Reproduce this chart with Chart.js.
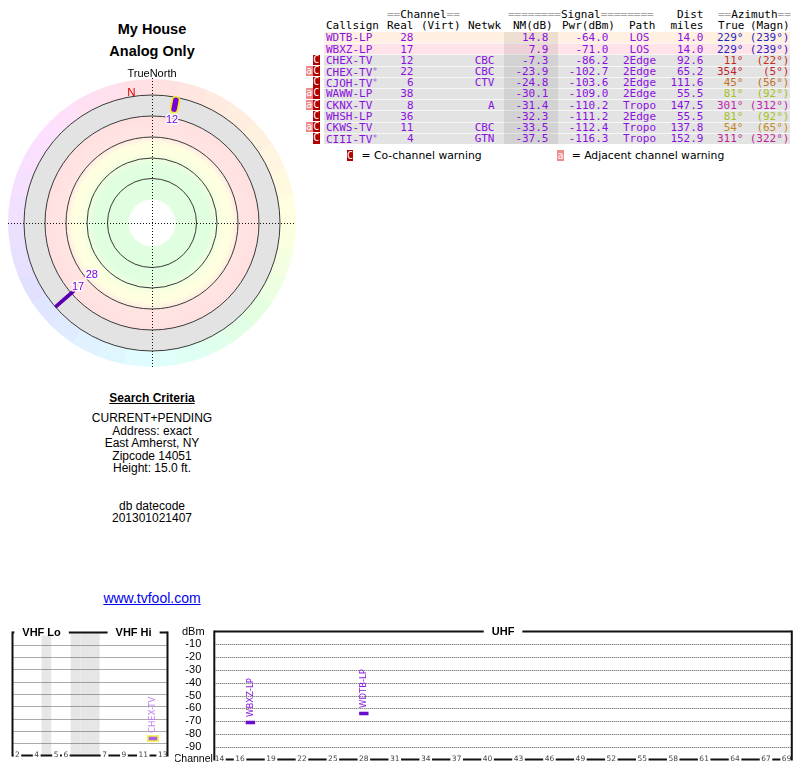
<!DOCTYPE html>
<html>
<head>
<meta charset="utf-8">
<script src="https://cdn.jsdelivr.net/npm/chart.js@4.4.1/dist/chart.umd.min.js"></script>
<style>
body { margin:0; background:#fff; width:800px; height:768px; overflow:hidden; position:relative;
       font-family:"Liberation Sans", Arial, sans-serif; color:#000; }
.t { position:absolute; white-space:nowrap; line-height:13px; }
.m { font-family:"DejaVu Sans Mono", monospace; font-size:11px; }
.g { color:#a8a8a8; }
.c { position:absolute; left:0; width:304px; text-align:center; white-space:nowrap; }
canvas { position:absolute; }
.bg { position:absolute; }
.badge { position:absolute; color:#fff; text-align:center; font-family:"DejaVu Sans Mono", monospace; font-size:10px; }
</style>
</head>
<body>

<div class="c" style="top:20px;font:bold 14.5px/18px 'Liberation Sans',Arial,sans-serif">My House</div>
<div class="c" style="top:42px;font:bold 14.5px/18px 'Liberation Sans',Arial,sans-serif">Analog Only</div>

<div class="c" style="top:391px;font:bold 12px/14px 'Liberation Sans',Arial,sans-serif"><u>Search Criteria</u></div>
<div class="c" style="top:412px;font:12px/12.5px 'Liberation Sans',Arial,sans-serif">CURRENT+PENDING<br>Address: exact<br>East Amherst, NY<br>Zipcode 14051<br>Height: 15.0 ft.<br><br><br>db datecode<br>201301021407</div>
<div class="c" style="top:590px;font:14px/16px 'Liberation Sans',Arial,sans-serif"><u style="color:#0000ee">www.tvfool.com</u></div>

<canvas id="radar" width="300" height="310" style="left:2px;top:68px;width:300px;height:310px"></canvas>
<canvas id="vhf" width="180" height="148" style="left:0px;top:620px;width:180px;height:148px"></canvas>
<canvas id="uhf" width="625" height="148" style="left:175px;top:620px;width:625px;height:148px"></canvas>

<script>
"use strict";

// Station list (table, radar plot and spectrum all come from these)
const callsigns = ["WDTB-LP", "WBXZ-LP", "CHEX-TV", "CHEX-TV*", "CJOH-TV*", "WAWW-LP", "CKNX-TV", "WHSH-LP", "CKWS-TV", "CIII-TV*"];
const realCh    = [28, 17, 12, 22, 6, 38, 8, 36, 11, 4];
const networks  = ["", "", "CBC", "CBC", "CTV", "", "A", "", "CBC", "GTN"];
const nmDb      = [14.8, 7.9, -7.3, -23.9, -24.8, -30.1, -31.4, -32.3, -33.5, -37.5];
const pwrDbm    = [-64.0, -71.0, -86.2, -102.7, -103.6, -109.0, -110.2, -111.2, -112.4, -116.3];
const paths     = ["LOS", "LOS", "2Edge", "2Edge", "2Edge", "2Edge", "Tropo", "2Edge", "Tropo", "Tropo"];
const distMi    = [14.0, 14.0, 92.6, 65.2, 111.6, 55.5, 147.5, 55.5, 137.8, 152.9];
const azTrue    = [229, 229, 11, 354, 45, 81, 301, 81, 54, 311];
const azMagn    = [239, 239, 22, 5, 56, 92, 312, 92, 65, 322];
const coWarn    = [0, 0, 1, 1, 1, 1, 1, 1, 1, 1];
const adjWarn   = [0, 0, 0, 1, 0, 1, 1, 0, 1, 0];

// Spectrum axes
const vhfSlots     = ["2", "3", "4", "", "5", "6", "", "", "", "7", "8", "9", "10", "11", "12", "13"];
const vhfTickLabels = ["2", "4", "5", "6", "7", "9", "11", "13"];
const uhfTickLabels = [14, 16, 19, 22, 25, 28, 31, 34, 37, 40, 43, 46, 49, 52, 55, 58, 61, 64, 67, 69];
const dbmTicks     = [-10, -20, -30, -40, -50, -60, -70, -80, -90];

// Radar ring radii (plot units = px)
const ringRadii = [44.5, 65, 86, 107, 128];
const RING_OUT = 128, HOLE = 23.5, HUE_R = 144, WEDGES = 32;

const PURPLE = "#8a10e0";

// ---------- helpers ----------
function put(html, x, yc, align, cls, color) {
    const el = document.createElement("div");
    el.className = "t " + (cls || "");
    el.innerHTML = html;
    el.style.top = (yc - 6.5) + "px";
    if (align === "right") el.style.right = (800 - x) + "px";
    else if (align === "center") { el.style.left = x + "px"; el.style.transform = "translateX(-50%)"; }
    else el.style.left = x + "px";
    if (color) el.style.color = color;
    document.body.appendChild(el);
    return el;
}
function box(x, y, w, h, color, cls, text) {
    const el = document.createElement("div");
    el.className = cls || "bg";
    el.style.left = x + "px"; el.style.top = y + "px";
    el.style.width = w + "px"; el.style.height = h + "px";
    el.style.background = color;
    if (text) { el.textContent = text; el.style.lineHeight = h + "px"; }
    document.body.appendChild(el);
    return el;
}
function hueFrom(stops, az) {
    az = ((az % 360) + 360) % 360;
    for (let k = 1; k < stops.length; k++) {
        const [a0, h0] = stops[k - 1], [a1, h1] = stops[k];
        if (az <= a1) return h0 + (h1 - h0) * (az - a0) / (a1 - a0);
    }
    return 0;
}
const ringHues = [[0, 0], [45, 28], [90, 62], [135, 120], [180, 180], [225, 225], [270, 268], [315, 300], [360, 360]];
const textHues = [[0, 0], [45, 30], [90, 80], [135, 120], [180, 180], [225, 232], [270, 275], [315, 320], [360, 360]];
function azColor(az) { return "hsl(" + hueFrom(textHues, az).toFixed(0) + ",72%,44%)"; }

// ---------- table ----------
const ROW_TOP = 32, ROW_H = 11.2;
callsigns.forEach((cs, i) => {
    const top = ROW_TOP + i * ROW_H;
    const bg = i === 0 ? "#fff0e2" : i === 1 ? "#ffe3e8" : "#e3e3e3";
    const r = box(324, top, 466, ROW_H, bg);
    if (i > 0) r.style.borderTop = "1px solid #f6f6f6", r.style.height = (ROW_H - 1) + "px";
});
box(504, ROW_TOP, 53.7, ROW_H * callsigns.length, "rgba(0,0,0,0.075)");

put('<span class="g">==</span>Channel<span class="g">==</span>', 387, 14.5, "left", "m");
put('<span class="g">========</span>Signal<span class="g">========</span>', 508, 14.5, "left", "m");
put("Dist", 703.5, 14.5, "right", "m");
put('<span class="g">==</span>Azimuth<span class="g">==</span>', 718, 14.5, "left", "m");
[["Callsign", 326], ["Real", 387], ["(Virt)", 421], ["Netwk", 468], ["NM(dB)", 513], ["Pwr(dBm)", 562], ["Path", 629], ["True", 718], ["(Magn)", 750]]
    .forEach(h => put(h[0], h[1], 25.5, "left", "m"));
put("miles", 703.5, 25.5, "right", "m");

callsigns.forEach((cs, i) => {
    const top = ROW_TOP + i * ROW_H, yc = top + ROW_H / 2 + 0.2;
    const name = cs.replace("*", '<span style="font-size:9px;vertical-align:2px;color:#9a70d0">*</span>');
    put(name, 326, yc, "left", "m", PURPLE);
    put(String(realCh[i]), 413.5, yc, "right", "m", PURPLE);
    put(networks[i], 494.5, yc, "right", "m", PURPLE);
    put(nmDb[i].toFixed(1), 548.5, yc, "right", "m", PURPLE);
    put(pwrDbm[i].toFixed(1), 608.5, yc, "right", "m", PURPLE);
    put(paths[i], 639.5, yc, "center", "m", PURPLE);
    put(distMi[i].toFixed(1), 703.5, yc, "right", "m", PURPLE);
    put(azTrue[i] + "\u00b0", 743.5, yc, "right", "m", azColor(azTrue[i]));
    put("(" + azMagn[i] + "\u00b0)", 789.5, yc, "right", "m", azColor(azTrue[i]));
    if (coWarn[i]) box(312.7, top + 0.3, 7.3, ROW_H - 0.6, "#b00000", "badge", "C");
    if (adjWarn[i]) box(305.6, top + 0.3, 7.1, ROW_H - 0.6, "#f08a8a", "badge", "a");
});

box(346.7, 149.5, 6.8, 11.2, "#b00000", "badge", "C");
box(557, 149.5, 7, 11.2, "#f08a8a", "badge", "a");
put("= Co-channel warning", 361.5, 155.3, "left").style.font = '10.8px/13px "DejaVu Sans", sans-serif';
put("= Adjacent channel warning", 571.7, 155.3, "left").style.font = '10.8px/13px "DejaVu Sans", sans-serif';

// ---------- radar plot ----------
const shown = callsigns.map((c, i) => i).filter(i => nmDb[i] > -10);

const radarSets = [];
shown.forEach(i => {
    const a = azTrue[i] * Math.PI / 180;
    const len = (nmDb[i] + 40) * 0.46;
    const warn = coWarn[i] === 1;
    const inset = warn ? 3 : 0;
    const r0 = RING_OUT - inset, r1 = RING_OUT - len + inset;
    const pts = [{ x: r0 * Math.sin(a), y: r0 * Math.cos(a) }, { x: r1 * Math.sin(a), y: r1 * Math.cos(a) }];
    if (warn) {
        radarSets.push({ data: pts, showLine: true, borderColor: "#f2ec2a", borderWidth: 9,
                         borderCapStyle: "round", pointRadius: 0, order: 3 });
    }
    radarSets.push({ data: pts, showLine: true, borderColor: warn ? "#7a00d8" : "#5a00b0",
                     borderWidth: warn ? 5.5 : 3.5, borderCapStyle: warn ? "round" : "butt",
                     pointRadius: 0, order: warn ? 1 : 2,
                     chanLabel: String(realCh[i]), az: azTrue[i], rInner: RING_OUT - len });
});

const radarBackground = {
    id: "radarBackground",
    beforeDatasetsDraw(chart) {
        const { ctx, scales: { x, y } } = chart;
        const cx = x.getPixelForValue(0), cy = y.getPixelForValue(0);
        const px = v => x.getPixelForValue(v) - cx;
        ctx.save();
        for (let k = 0; k < WEDGES; k++) {
            const d0 = k * 360 / WEDGES, d1 = (k + 1) * 360 / WEDGES;
            ctx.fillStyle = "hsl(" + hueFrom(ringHues, (d0 + d1) / 2).toFixed(0) + ",100%,94%)";
            ctx.beginPath();
            ctx.moveTo(cx, cy);
            ctx.arc(cx, cy, px(HUE_R), (d0 - 90) * Math.PI / 180, (d1 - 90) * Math.PI / 180 + 0.004);
            ctx.closePath();
            ctx.fill();
        }
        ctx.fillStyle = "#e3e3e3";
        ctx.beginPath(); ctx.arc(cx, cy, px(RING_OUT), 0, Math.PI * 2); ctx.fill();
        const R = px(107);
        const grad = ctx.createRadialGradient(cx, cy, 0, cx, cy, R);
        grad.addColorStop(0, "#e0ffe0");
        grad.addColorStop(0.54, "#e0ffe0");
        grad.addColorStop(0.66, "#fcffe0");
        grad.addColorStop(0.74, "#ffffe0");
        grad.addColorStop(0.82, "#ffe4e2");
        grad.addColorStop(1, "#ffe0e0");
        ctx.fillStyle = grad;
        ctx.beginPath(); ctx.arc(cx, cy, R, 0, Math.PI * 2); ctx.fill();
        ctx.fillStyle = "#fff";
        ctx.beginPath(); ctx.arc(cx, cy, px(HOLE), 0, Math.PI * 2); ctx.fill();
        ctx.strokeStyle = "#3a3a3a"; ctx.lineWidth = 1;
        ringRadii.forEach(r => { ctx.beginPath(); ctx.arc(cx, cy, px(r), 0, Math.PI * 2); ctx.stroke(); });
        ctx.strokeStyle = "#111"; ctx.setLineDash([1, 2]);
        ctx.beginPath();
        ctx.moveTo(x.getPixelForValue(-144), cy + 0.5); ctx.lineTo(x.getPixelForValue(144), cy + 0.5);
        ctx.moveTo(cx + 0.5, y.getPixelForValue(145)); ctx.lineTo(cx + 0.5, y.getPixelForValue(-145));
        ctx.stroke();
        ctx.setLineDash([]);
        ctx.textAlign = "center"; ctx.textBaseline = "middle";
        ctx.fillStyle = "#000"; ctx.font = '11px "Liberation Sans", Arial, sans-serif';
        ctx.fillText("TrueNorth", cx, y.getPixelForValue(149));
        const na = -9 * Math.PI / 180;
        ctx.fillStyle = "#e00000"; ctx.font = '11.5px "Liberation Sans", Arial, sans-serif';
        ctx.fillText("N", x.getPixelForValue(132 * Math.sin(na)), y.getPixelForValue(132 * Math.cos(na)));
        ctx.restore();
    }
};

const radarLabels = {
    id: "radarLabels",
    afterDatasetsDraw(chart) {
        const { ctx, scales: { x, y } } = chart;
        const placed = [];
        const items = chart.data.datasets.filter(d => d.chanLabel).sort((p, q) => +p.chanLabel - +q.chanLabel);
        ctx.save();
        ctx.font = '11px "Liberation Sans", Arial, sans-serif';
        ctx.textAlign = "center"; ctx.textBaseline = "middle";
        items.forEach(d => {
            let r = d.rInner - 8;
            while (placed.some(p => p.az === d.az && Math.abs(p.r - r) < 12)) r -= 15;
            placed.push({ az: d.az, r: r });
            const a = d.az * Math.PI / 180;
            const lx = x.getPixelForValue(r * Math.sin(a)), ly = y.getPixelForValue(r * Math.cos(a));
            ctx.strokeStyle = "rgba(255,255,255,0.9)"; ctx.lineWidth = 3; ctx.lineJoin = "round";
            ctx.strokeText(d.chanLabel, lx, ly);
            ctx.fillStyle = "#8000e0";
            ctx.fillText(d.chanLabel, lx, ly);
        });
        ctx.restore();
    }
};

new Chart(document.getElementById("radar"), {
    type: "scatter",
    data: { datasets: radarSets },
    options: {
        responsive: false, animation: false, events: [],
        layout: { padding: 0 },
        plugins: { legend: { display: false }, tooltip: { enabled: false } },
        scales: {
            x: { type: "linear", min: -150, max: 150, display: false },
            y: { type: "linear", min: -155, max: 155, display: false }
        }
    },
    plugins: [radarBackground, radarLabels]
});

// ---------- spectrum ----------
function spectrumSets(filterFn, xOf) {
    const sets = [];
    shown.filter(i => filterFn(realCh[i])).forEach(i => {
        const pt = [{ x: xOf(realCh[i]), y: pwrDbm[i] }];
        const warn = coWarn[i] === 1;
        if (warn) {
            sets.push({ data: pt, showLine: false, pointStyle: "line", pointRadius: 6,
                        pointBorderWidth: 6.5, pointBorderColor: "#f4ee40", order: 2 });
        }
        sets.push({ data: pt, showLine: false, pointStyle: "line", pointRadius: warn ? 4.2 : 4.7,
                    pointBorderWidth: warn ? 3.4 : 3.5, pointBorderColor: warn ? "#a860e8" : "#6a0ccc",
                    order: 1, station: callsigns[i], labelColor: warn ? "#c080f0" : "#8c20e0" });
    });
    return sets;
}

function spectrumDecor(cfg) {
    return {
        id: "decor_" + cfg.name,
        beforeDatasetsDraw(chart) {
            const { ctx, chartArea: ca, scales: { x, y } } = chart;
            ctx.save();
            ctx.fillStyle = "#e6e6e6";
            (cfg.bands || []).forEach(v => {
                const a = x.getPixelForValue(v - 0.5), b = x.getPixelForValue(v + 0.5);
                ctx.fillRect(a, ca.top, b - a, ca.bottom - ca.top);
            });
            ctx.strokeStyle = "#555"; ctx.lineWidth = 1; ctx.setLineDash([1, 1]);
            dbmTicks.forEach(v => {
                const py = Math.round(y.getPixelForValue(v)) + 0.5;
                ctx.beginPath(); ctx.moveTo(ca.left, py); ctx.lineTo(ca.right, py); ctx.stroke();
            });
            ctx.restore();
        },
        afterDatasetsDraw(chart) {
            const { ctx, chartArea: ca, scales: { x, y } } = chart;
            ctx.save();
            // rotated station names above each marker
            ctx.font = '8.5px "DejaVu Sans", sans-serif';
            ctx.textAlign = "left"; ctx.textBaseline = "middle";
            chart.data.datasets.forEach((d, di) => {
                if (!d.station) return;
                const p = chart.getDatasetMeta(di).data[0];
                ctx.save();
                ctx.translate(p.x, p.y - 5.5);
                ctx.rotate(-Math.PI / 2);
                ctx.fillStyle = d.labelColor;
                ctx.fillText(d.station, 0, 0);
                ctx.restore();
            });
            // frame: top line with band titles
            ctx.strokeStyle = "#111"; ctx.lineWidth = 2;
            ctx.beginPath();
            ctx.moveTo(ca.left, ca.top); ctx.lineTo(ca.right, ca.top);
            ctx.moveTo(ca.left, ca.bottom); ctx.lineTo(ca.right, ca.bottom);
            ctx.stroke();
            ctx.font = 'bold 11px "Liberation Sans", Arial, sans-serif';
            ctx.textAlign = "center"; ctx.textBaseline = "middle";
            cfg.titles.forEach(t => {
                const cx = (x.getPixelForValue(t.from) + x.getPixelForValue(t.to)) / 2;
                const w = ctx.measureText(t.text).width;
                ctx.fillStyle = "#fff";
                ctx.fillRect(cx - w / 2 - 8, ca.top - 3, w + 16, 6);
                ctx.fillStyle = "#000";
                ctx.fillText(t.text, cx, ca.top);
            });
            // channel labels sitting on the bottom line
            ctx.font = '7.5px "DejaVu Sans", sans-serif';
            cfg.ticks.forEach(t => {
                const tx = x.getPixelForValue(t.value);
                const w = ctx.measureText(t.label).width;
                ctx.fillStyle = "#fff";
                ctx.fillRect(tx - w / 2 - 1.5, ca.bottom - 3, w + 3, 6);
                ctx.fillStyle = "#444";
                ctx.fillText(t.label, tx, ca.bottom);
            });
            // side borders
            ctx.beginPath();
            ctx.moveTo(ca.left, ca.top - 1); ctx.lineTo(ca.left, ca.bottom + 1);
            ctx.moveTo(ca.right, ca.top - 1); ctx.lineTo(ca.right, ca.bottom + 1);
            ctx.stroke();
            // dBm column
            if (cfg.yLabels) {
                const lx = ca.left - 21;
                ctx.font = '11px "Liberation Sans", Arial, sans-serif';
                ctx.fillStyle = "#000";
                ctx.fillText("dBm", lx, y.getPixelForValue(0));
                dbmTicks.forEach(v => ctx.fillText(String(v), lx, y.getPixelForValue(v)));
                ctx.font = '10.5px "Liberation Sans", Arial, sans-serif';
                ctx.fillText("Channel", lx, y.getPixelForValue(-100));
            }
            ctx.restore();
        }
    };
}

const baseOpts = (pad, xScale) => ({
    responsive: false, animation: false, events: [],
    layout: { padding: pad },
    plugins: { legend: { display: false }, tooltip: { enabled: false } },
    scales: { x: xScale, y: { type: "linear", min: -100, max: 0, display: false } }
});

new Chart(document.getElementById("vhf"), {
    type: "line",
    data: { labels: vhfSlots, datasets: spectrumSets(ch => ch <= 13, ch => String(ch)) },
    options: baseOpts({ left: 7.3, right: 7, top: 11.5, bottom: 8.5 },
                      { type: "category", offset: true, display: false }),
    plugins: [spectrumDecor({
        name: "vhf",
        bands: vhfSlots.map((s, k) => s === "" ? k : -1).filter(k => k >= 0),
        titles: [{ text: "VHF Lo", from: vhfSlots.indexOf("2"), to: vhfSlots.indexOf("6") },
                 { text: "VHF Hi", from: vhfSlots.indexOf("7"), to: vhfSlots.indexOf("13") }],
        ticks: vhfTickLabels.map(l => ({ value: vhfSlots.indexOf(l), label: l }))
    })]
});

new Chart(document.getElementById("uhf"), {
    type: "line",
    data: { datasets: spectrumSets(ch => ch >= 14, ch => ch) },
    options: baseOpts({ left: 39.3, right: 7.3, top: 11.5, bottom: 8.5 },
                      { type: "linear", min: 13.5, max: 69.5, display: false }),
    plugins: [spectrumDecor({
        name: "uhf",
        yLabels: true,
        titles: [{ text: "UHF", from: uhfTickLabels[0], to: uhfTickLabels[uhfTickLabels.length - 1] }],
        ticks: uhfTickLabels.map(c => ({ value: c, label: String(c) }))
    })]
});
</script>
</body>
</html>
